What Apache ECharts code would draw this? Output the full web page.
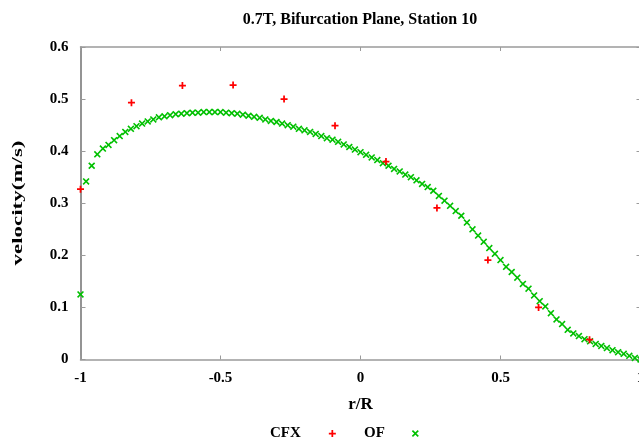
<!DOCTYPE html>
<html>
<head>
<meta charset="utf-8">
<script src="https://cdn.jsdelivr.net/npm/echarts@6/dist/echarts.min.js"></script>
<style>
html,body{margin:0;padding:0;background:#fff;}
#chart{width:639px;height:443px;}
</style>
</head>
<body>
<div id="chart"></div>
<script>
var chartTitle = '0.7T, Bifurcation Plane, Station 10';
var xAxisTitle = 'r/R';
var yAxisTitle = 'velocity(m/s)';
var xTickLabels = ['-1', '-0.5', '0', '0.5', '1'];
var yTickLabels = ['0', '0.1', '0.2', '0.3', '0.4', '0.5', '0.6'];

var cfxR = [-1.0, -0.818, -0.636, -0.455, -0.273, -0.091, 0.091, 0.273, 0.455, 0.636, 0.818];
var cfxV = [0.327, 0.493, 0.526, 0.527, 0.500, 0.449, 0.380, 0.291, 0.191, 0.100, 0.038];

var ofR = [-1.00, -0.98, -0.96, -0.94, -0.92, -0.90, -0.88, -0.86, -0.84, -0.82,
           -0.80, -0.78, -0.76, -0.74, -0.72, -0.70, -0.68, -0.66, -0.64, -0.62,
           -0.60, -0.58, -0.56, -0.54, -0.52, -0.50, -0.48, -0.46, -0.44, -0.42,
           -0.40, -0.38, -0.36, -0.34, -0.32, -0.30, -0.28, -0.26, -0.24, -0.22,
           -0.20, -0.18, -0.16, -0.14, -0.12, -0.10, -0.08, -0.06, -0.04, -0.02,
            0.00,  0.02,  0.04,  0.06,  0.08,  0.10,  0.12,  0.14,  0.16,  0.18,
            0.20,  0.22,  0.24,  0.26,  0.28,  0.30,  0.32,  0.34,  0.36,  0.38,
            0.40,  0.42,  0.44,  0.46,  0.48,  0.50,  0.52,  0.54,  0.56,  0.58,
            0.60,  0.62,  0.64,  0.66,  0.68,  0.70,  0.72,  0.74,  0.76,  0.78,
            0.80,  0.82,  0.84,  0.86,  0.88,  0.90,  0.92,  0.94,  0.96,  0.98,
            1.00];
var ofV = [0.125, 0.342, 0.372, 0.394, 0.405, 0.412, 0.421, 0.429, 0.437, 0.443,
           0.448, 0.453, 0.457, 0.461, 0.465, 0.467, 0.469, 0.471, 0.472, 0.473,
           0.474, 0.474, 0.475, 0.475, 0.475, 0.475, 0.474, 0.473, 0.472, 0.470,
           0.468, 0.466, 0.464, 0.461, 0.458, 0.456, 0.453, 0.450, 0.447, 0.443,
           0.440, 0.437, 0.433, 0.429, 0.425, 0.422, 0.418, 0.413, 0.408, 0.403,
           0.398, 0.393, 0.388, 0.383, 0.377, 0.372, 0.366, 0.361, 0.355, 0.350,
           0.344, 0.337, 0.331, 0.324, 0.314, 0.305, 0.295, 0.285, 0.276, 0.263,
           0.250, 0.238, 0.226, 0.214, 0.203, 0.191, 0.178, 0.168, 0.157, 0.145,
           0.136, 0.123, 0.112, 0.102, 0.089, 0.077, 0.068, 0.057, 0.050, 0.045,
           0.039, 0.035, 0.030, 0.026, 0.022, 0.018, 0.014, 0.011, 0.007, 0.003,
           0.000];

var seriesNames = ['CFX', 'OF'];
var seriesColors = ['#ff0000', '#00c000'];

var plusPath = 'path://M3,0L5,0L5,3L8,3L8,5L5,5L5,8L3,8L3,5L0,5L0,3L3,3Z';
var crossPath = 'path://M0,1.3L1.3,0L4,2.7L6.7,0L8,1.3L5.3,4L8,6.7L6.7,8L4,5.3L1.3,8L0,6.7L2.7,4Z';

var FONT = 'Liberation Serif';
var frameColor = '#9a9a9a';

function lbl(list, lo, step) {
  return function (v) {
    var idx = Math.round((v - lo) / step);
    return list[idx] !== undefined ? list[idx] : '';
  };
}

var chart = echarts.init(document.getElementById('chart'), null, {renderer: 'canvas'});
var option = {
  backgroundColor: '#ffffff',
  animation: false,
  title: {
    text: chartTitle,
    left: 355, top: 7, textAlign: 'center',
    textStyle: {fontFamily: FONT, fontWeight: 'bold', fontSize: 16, color: '#000'}
  },
  grid: {left: 80.5, top: 47, width: 560, height: 312.5, containLabel: false, outerBoundsMode: 'none'},
  graphic: [
    {
      type: 'text', x: 18, y: 203, rotation: Math.PI / 2, scaleX: 1.53, scaleY: 1,
      style: {
        text: yAxisTitle, x: 0, y: 0,
        font: 'bold 15px "Liberation Serif"', fill: '#000',
        textAlign: 'center', textVerticalAlign: 'middle', align: 'center', verticalAlign: 'middle'
      }
    }
  ],
  legend: [
    {
      data: [seriesNames[0]], left: 265, top: 421, align: 'right', orient: 'horizontal',
      itemWidth: 7, itemHeight: 7, selectedMode: false,
      textStyle: {fontFamily: FONT, fontWeight: 'bold', fontSize: 15, color: '#000', padding: [0, 23, 0, 0]}
    },
    {
      data: [seriesNames[1]], left: 359, top: 421, align: 'right', orient: 'horizontal',
      itemWidth: 7, itemHeight: 7, selectedMode: false,
      textStyle: {fontFamily: FONT, fontWeight: 'bold', fontSize: 15, color: '#000', padding: [0, 22, 0, 0]}
    }
  ],
  xAxis: [
    {
      type: 'value', min: -1, max: 1, interval: 0.5, position: 'bottom',
      name: xAxisTitle, nameLocation: 'middle', nameGap: 37,
      nameTextStyle: {fontFamily: FONT, fontWeight: 'bold', fontSize: 17, color: '#000'},
      axisLine: {show: true, onZero: false, lineStyle: {color: frameColor, width: 1.5}},
      axisTick: {show: true, inside: true, length: 4, lineStyle: {color: frameColor}},
      axisLabel: {formatter: lbl(xTickLabels, -1, 0.5), margin: 11,
        fontFamily: FONT, fontWeight: 'bold', fontSize: 15, color: '#000'},
      splitLine: {show: false}
    },
    {
      type: 'value', min: -1, max: 1, interval: 0.5, position: 'top',
      axisLine: {show: true, onZero: false, lineStyle: {color: frameColor, width: 1.5}},
      axisTick: {show: true, inside: true, length: 4, lineStyle: {color: frameColor}},
      axisLabel: {show: false}, splitLine: {show: false}
    }
  ],
  yAxis: [
    {
      type: 'value', min: 0, max: 0.6, interval: 0.1, position: 'left',
      axisLine: {show: true, onZero: false, lineStyle: {color: '#707070', width: 1.5}},
      axisTick: {show: true, inside: true, length: 5, lineStyle: {color: frameColor}},
      axisLabel: {formatter: lbl(yTickLabels, 0, 0.1), margin: 12,
        fontFamily: FONT, fontWeight: 'bold', fontSize: 15, color: '#000'},
      splitLine: {show: false}
    },
    {
      type: 'value', min: 0, max: 0.6, interval: 0.1, position: 'right',
      axisLine: {show: true, onZero: false, lineStyle: {color: frameColor, width: 1.5}},
      axisTick: {show: true, inside: true, length: 4, lineStyle: {color: frameColor}},
      axisLabel: {show: false}, splitLine: {show: false}
    }
  ],
  series: [
    {
      name: seriesNames[1], type: 'scatter', xAxisIndex: 0, yAxisIndex: 0,
      symbol: crossPath, symbolSize: 7, symbolKeepAspect: true,
      itemStyle: {color: seriesColors[1], opacity: 1},
      data: ofR.map(function (r, i) { return [r, ofV[i]]; }),
      z: 2
    },
    {
      name: seriesNames[0], type: 'scatter', xAxisIndex: 0, yAxisIndex: 0,
      symbol: plusPath, symbolSize: 7, symbolKeepAspect: true,
      itemStyle: {color: seriesColors[0], opacity: 1},
      data: cfxR.map(function (r, i) { return [r, cfxV[i]]; }),
      z: 3
    }
  ]
};
chart.setOption(option);
</script>
</body>
</html>
